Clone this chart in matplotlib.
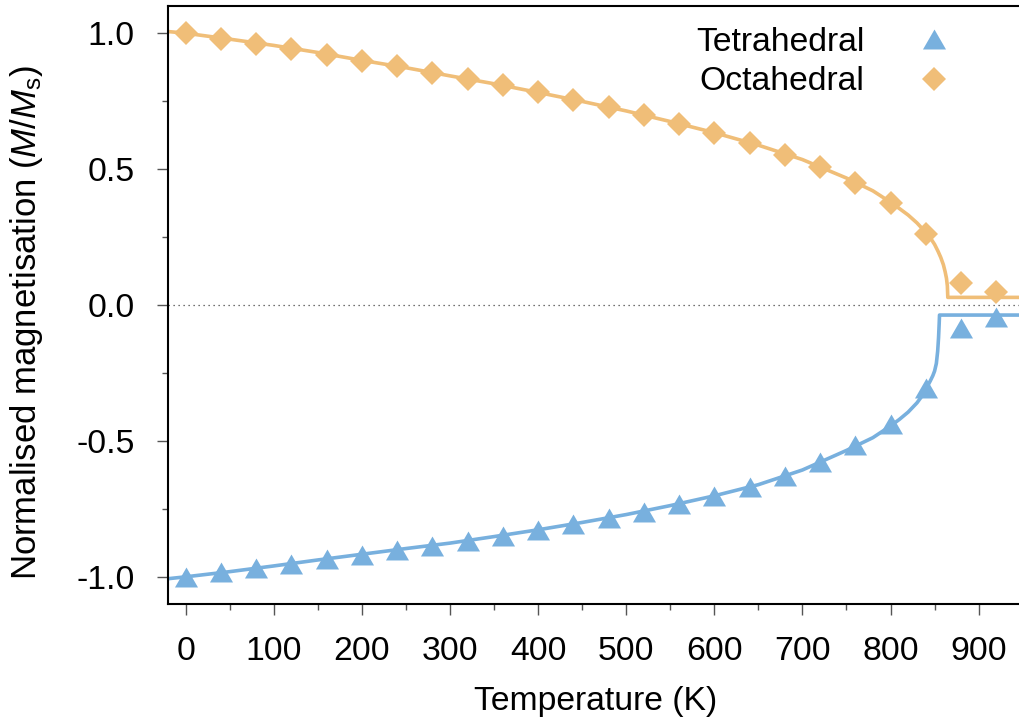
import numpy as np
import matplotlib
matplotlib.use('Agg')
import matplotlib.pyplot as plt
from matplotlib.lines import Line2D
from matplotlib.ticker import MultipleLocator, FormatStrFormatter

plt.rcParams['font.family'] = ['Liberation Sans', 'DejaVu Sans']
plt.rcParams['mathtext.fontset'] = 'custom'
plt.rcParams['mathtext.rm'] = 'Liberation Sans'
plt.rcParams['mathtext.it'] = 'Liberation Sans:italic'
plt.rcParams['axes.unicode_minus'] = False

# simulated sublattice magnetisation
temp = [0, 40, 80, 120, 160, 200, 240, 280, 320, 360, 400, 440,
        480, 520, 560, 600, 640, 680, 720, 760, 800, 840, 880, 920]
m_tet = [-1.0, -0.982, -0.967, -0.952, -0.934, -0.919, -0.901, -0.886,
         -0.868, -0.849, -0.827, -0.805, -0.783, -0.761, -0.732, -0.702,
         -0.669, -0.629, -0.577, -0.515, -0.4375, -0.305, -0.085, -0.044]
m_oct = [1.0, 0.978, 0.96, 0.941, 0.919, 0.897, 0.879, 0.853,
         0.831, 0.809, 0.783, 0.754, 0.728, 0.699, 0.665, 0.632,
         0.596, 0.551, 0.507, 0.449, 0.375, 0.261, 0.081, 0.048]

# fitted curves
fit_t_oct = [-20, 0, 50, 100, 150, 200, 250, 300, 350, 400, 450, 500,
             550, 600, 650, 700, 750, 780, 800, 810, 820, 830, 840, 846,
             850, 854, 857, 860, 862, 863.5, 864.5, 865, 950]
fit_m_oct = [1.006, 1.0, 0.978, 0.955, 0.929, 0.900, 0.873, 0.843,
             0.814, 0.782, 0.749, 0.714, 0.675, 0.634, 0.588, 0.535,
             0.467, 0.420, 0.378, 0.355, 0.331, 0.302, 0.267, 0.243,
             0.223, 0.197, 0.175, 0.148, 0.122, 0.098, 0.070, 0.028, 0.028]
fit_t_tet = [-20, 0, 50, 100, 150, 200, 250, 300, 350, 400, 450, 500,
             550, 600, 650, 700, 750, 780, 800, 810, 820, 830, 835, 840,
             845, 848, 850, 852, 853.5, 854.5, 855.2, 855.6, 950]
fit_m_tet = [-1.007, -1.0, -0.981, -0.960, -0.938, -0.917, -0.896, -0.876,
             -0.852, -0.827, -0.800, -0.771, -0.738, -0.702, -0.661, -0.607,
             -0.535, -0.488, -0.445, -0.421, -0.394, -0.360, -0.338, -0.310,
             -0.280, -0.260, -0.243, -0.215, -0.170, -0.120, -0.070, -0.037,
             -0.037]

c_tet = '#78b0de'
c_oct = '#f0be78'
tri = [(-1, -0.866), (1, -0.866), (0, 0.866)]
fs = 24.3

fig = plt.figure(figsize=(10.2, 7.25), dpi=100)
ax = fig.add_axes([168 / 1020, 121 / 725, 854.7 / 1020, 598 / 725])

ax.axhline(0, color='#444444', lw=0.9, ls=(0, (1, 3)), zorder=1)
ax.plot(fit_t_tet, fit_m_tet, color=c_tet, lw=2.6, zorder=2)
ax.plot(fit_t_oct, fit_m_oct, color=c_oct, lw=2.6, zorder=2)
ax.plot(temp, m_tet, ls='none', marker=tri, ms=16.6, mew=0, color=c_tet, zorder=3)
ax.plot(temp, m_oct, ls='none', marker='D', ms=12.7, mew=0, color=c_oct, zorder=3)

ax.set_xlim(-20, 950)
ax.set_ylim(-1.1, 1.1)
ax.xaxis.set_major_locator(MultipleLocator(100))
ax.xaxis.set_minor_locator(MultipleLocator(50))
ax.yaxis.set_major_locator(MultipleLocator(0.5))
ax.yaxis.set_minor_locator(MultipleLocator(0.25))
ax.yaxis.set_major_formatter(FormatStrFormatter('%.1f'))

for s in ['left', 'bottom', 'top']:
    ax.spines[s].set_linewidth(1.5)
ax.spines['right'].set_visible(False)
ax.tick_params(which='both', direction='out', color='#555555', width=1,
               labelsize=fs, top=False, right=False)
ax.tick_params(which='major', length=8)
ax.tick_params(which='minor', length=4)
ax.tick_params(axis='x', which='major', pad=15)
ax.tick_params(axis='y', which='major', pad=16)

ax.set_xlabel('Temperature (K)', fontsize=fs, labelpad=14)
ax.set_ylabel(r'Normalised magnetisation ($M$/$M_{\rm s}$)', fontsize=25)
ax.yaxis.set_label_coords(-0.144, 0.4716)

handles = [Line2D([], [], ls='none', marker=tri, ms=16.6, mew=0, color=c_tet),
           Line2D([], [], ls='none', marker='D', ms=12.7, mew=0, color=c_oct)]
ax.legend(handles, ['Tetrahedral', 'Octahedral'], loc='upper right',
          bbox_to_anchor=(959 / 1020, 1 - 27 / 725), bbox_transform=fig.transFigure,
          frameon=False, markerfirst=False, handlelength=1.5, handletextpad=1.3,
          labelspacing=0.25, borderpad=0, borderaxespad=0, fontsize=fs)

fig.savefig('out.png', dpi=100)
